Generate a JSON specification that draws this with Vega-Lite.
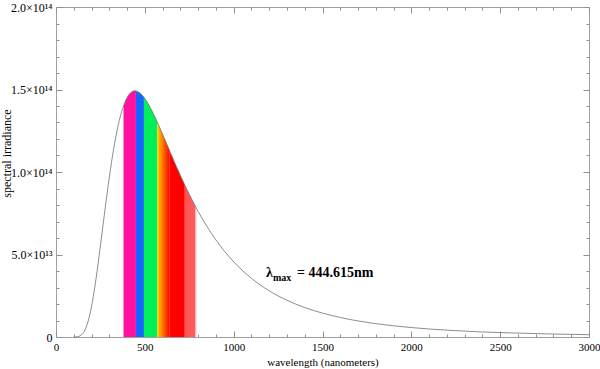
{
  "$schema": "https://vega.github.io/schema/vega-lite/v6.json",
  "width": 533,
  "height": 330,
  "autosize": {"type": "none"},
  "padding": {"left": 56, "top": 7, "right": 11, "bottom": 32},
  "background": "white",
  "config": {
    "view": {"stroke": "#a0a0a0", "strokeWidth": 1},
    "axis": {"domain": false, "grid": false, "tickColor": "#909090", "tickWidth": 1, "labelFont": "Liberation Serif", "labelFontSize": 11, "labelColor": "#000", "labelFlush": false, "labelOverlap": false, "labelBound": false, "titleFont": "Liberation Serif", "titleFontSize": 11, "titleFontWeight": "normal", "titleColor": "#000"}
  },
  "datasets": {
    "curve": [
      {"w": 100, "v": 9.6e9}, {"w": 110, "v": 4.41e10}, {"w": 120, "v": 1.52e11}, {"w": 130, "v": 4.19e11},
      {"w": 140, "v": 9.72e11}, {"w": 150, "v": 1.972e12}, {"w": 160, "v": 3.582e12}, {"w": 170, "v": 5.956e12},
      {"w": 180, "v": 9.209e12}, {"w": 190, "v": 1.34e13}, {"w": 200, "v": 1.854e13}, {"w": 210, "v": 2.457e13},
      {"w": 225, "v": 3.507e13}, {"w": 250, "v": 5.525e13}, {"w": 275, "v": 7.657e13}, {"w": 300, "v": 9.679e13},
      {"w": 325, "v": 1.143e14}, {"w": 350, "v": 1.2828e14}, {"w": 375, "v": 1.3848e14}, {"w": 400, "v": 1.4505e14},
      {"w": 425, "v": 1.4843e14}, {"w": 444.6, "v": 1.4919e14}, {"w": 475, "v": 1.4764e14}, {"w": 500, "v": 1.4451e14},
      {"w": 525, "v": 1.4011e14}, {"w": 550, "v": 1.3487e14}, {"w": 600, "v": 1.2287e14}, {"w": 650, "v": 1.1021e14},
      {"w": 700, "v": 9.79e13}, {"w": 750, "v": 8.646e13}, {"w": 800, "v": 7.612e13}, {"w": 900, "v": 5.882e13},
      {"w": 1000, "v": 4.558e13}, {"w": 1100, "v": 3.557e13}, {"w": 1200, "v": 2.8e13}, {"w": 1300, "v": 2.226e13},
      {"w": 1400, "v": 1.786e13}, {"w": 1600, "v": 1.183e13}, {"w": 1800, "v": 8.1e12}, {"w": 2000, "v": 5.72e12},
      {"w": 2250, "v": 3.837e12}, {"w": 2500, "v": 2.664e12}, {"w": 2750, "v": 1.905e12}, {"w": 3000, "v": 1.396e12}
    ],
    "bands": [
      {"band": "violet", "w": 380, "v": 1.4006e14}, {"band": "violet", "w": 400, "v": 1.4505e14}, {"band": "violet", "w": 425, "v": 1.4843e14}, {"band": "violet", "w": 444.6, "v": 1.4919e14}, {"band": "violet", "w": 450, "v": 1.4913e14},
      {"band": "blue", "w": 450, "v": 1.4913e14}, {"band": "blue", "w": 475, "v": 1.4764e14}, {"band": "blue", "w": 495, "v": 1.4525e14},
      {"band": "green", "w": 495, "v": 1.4525e14}, {"band": "green", "w": 500, "v": 1.4451e14}, {"band": "green", "w": 525, "v": 1.4011e14}, {"band": "green", "w": 550, "v": 1.3487e14}, {"band": "green", "w": 570, "v": 1.3022e14},
      {"band": "grad", "w": 570, "v": 1.3022e14}, {"band": "grad", "w": 590, "v": 1.2535e14}, {"band": "grad", "w": 600, "v": 1.2287e14}, {"band": "grad", "w": 620, "v": 1.1781e14}, {"band": "grad", "w": 640, "v": 1.1272e14},
      {"band": "red", "w": 640, "v": 1.1272e14}, {"band": "red", "w": 650, "v": 1.1021e14}, {"band": "red", "w": 675, "v": 1.0397e14}, {"band": "red", "w": 700, "v": 9.79e13}, {"band": "red", "w": 725, "v": 9.205e13},
      {"band": "fade", "w": 725, "v": 9.205e13}, {"band": "fade", "w": 750, "v": 8.646e13}, {"band": "fade", "w": 780, "v": 8.011e13}, {"band": "fade", "w": 790, "v": 7.809e13}
    ],
    "note": [
      {"w": 1182, "v": 3.64e13, "sym": "λ", "sub": "max", "eq": "= 444.615nm"}
    ]
  },
  "layer": [
    {
      "data": {"name": "bands"},
      "transform": [{"filter": "datum.band != 'grad' && datum.band != 'fade'"}],
      "mark": {"type": "area", "interpolate": "monotone"},
      "encoding": {
        "x": {"field": "w", "type": "quantitative", "scale": {"domain": [0, 3000], "nice": false, "zero": false}, "axis": null},
        "y": {"field": "v", "type": "quantitative", "scale": {"domain": [0, 2e14], "nice": false}, "axis": null, "stack": null},
        "color": {"field": "band", "type": "nominal", "scale": {"domain": ["violet", "blue", "green", "red"], "range": ["#ff12a0", "#1466ff", "#00f05a", "#ff0000"]}, "legend": null}
      }
    },
    {
      "data": {"name": "bands"},
      "transform": [{"filter": "datum.band == 'grad'"}],
      "mark": {"type": "area", "interpolate": "monotone", "color": {"gradient": "linear", "x1": 0, "x2": 1, "y1": 0, "y2": 0, "stops": [{"offset": 0, "color": "#ffd200"}, {"offset": 0.4, "color": "#ff8000"}, {"offset": 1, "color": "#ff0000"}]}},
      "encoding": {
        "x": {"field": "w", "type": "quantitative", "scale": {"domain": [0, 3000], "nice": false, "zero": false}, "axis": null},
        "y": {"field": "v", "type": "quantitative", "scale": {"domain": [0, 2e14], "nice": false}, "axis": null, "stack": null}
      }
    },
    {
      "data": {"name": "bands"},
      "transform": [{"filter": "datum.band == 'fade'"}],
      "mark": {"type": "area", "interpolate": "monotone", "color": {"gradient": "linear", "x1": 0, "x2": 1, "y1": 0, "y2": 0, "stops": [{"offset": 0, "color": "#ff5252"}, {"offset": 0.84, "color": "#ff5c5c"}, {"offset": 0.86, "color": "#ffaaaa"}, {"offset": 1, "color": "#ffbcbc"}]}},
      "encoding": {
        "x": {"field": "w", "type": "quantitative", "scale": {"domain": [0, 3000], "nice": false, "zero": false}, "axis": null},
        "y": {"field": "v", "type": "quantitative", "scale": {"domain": [0, 2e14], "nice": false}, "axis": null, "stack": null}
      }
    },
    {
      "data": {"name": "curve"},
      "mark": {"type": "line", "interpolate": "monotone", "color": "#707070", "strokeWidth": 0.8},
      "encoding": {
        "x": {"field": "w", "type": "quantitative", "scale": {"domain": [0, 3000], "nice": false, "zero": false},
          "axis": {"orient": "bottom", "values": [0, 500, 1000, 1500, 2000, 2500, 3000], "format": "d", "tickSize": -6, "labelPadding": 10, "title": "wavelength (nanometers)", "titlePadding": 4}},
        "y": {"field": "v", "type": "quantitative", "scale": {"domain": [0, 2e14], "nice": false},
          "axis": {"orient": "left", "values": [0, 5e13, 1e14, 1.5e14, 2e14], "labelExpr": "datum.value == 0 ? '0' : datum.value < 6e13 ? '5.0×10¹³' : datum.value < 1.2e14 ? '1.0×10¹⁴' : datum.value < 1.7e14 ? '1.5×10¹⁴' : '2.0×10¹⁴'", "labelFontSize": 12, "tickSize": -6, "labelPadding": 10, "title": "spectral irradiance", "titleFontSize": 12, "titleAngle": -90, "titleX": -50, "titleY": 146, "titleAlign": "center", "titleBaseline": "middle"}}
      }
    },
    {
      "data": {"name": "curve"},
      "mark": {"type": "line", "strokeOpacity": 0},
      "encoding": {
        "x": {"field": "w", "type": "quantitative", "scale": {"domain": [0, 3000], "nice": false, "zero": false},
          "axis": {"orient": "bottom", "values": [100, 200, 300, 400, 600, 700, 800, 900, 1100, 1200, 1300, 1400, 1600, 1700, 1800, 1900, 2100, 2200, 2300, 2400, 2600, 2700, 2800, 2900], "tickSize": -3, "labels": false, "title": null}},
        "y": {"field": "v", "type": "quantitative", "scale": {"domain": [0, 2e14], "nice": false},
          "axis": {"orient": "left", "values": [1e13, 2e13, 3e13, 4e13, 6e13, 7e13, 8e13, 9e13, 1.1e14, 1.2e14, 1.3e14, 1.4e14, 1.6e14, 1.7e14, 1.8e14, 1.9e14], "tickSize": -3, "labels": false, "title": null}}
      }
    },
    {
      "data": {"name": "curve"},
      "mark": {"type": "line", "strokeOpacity": 0},
      "encoding": {
        "x": {"field": "w", "type": "quantitative", "scale": {"domain": [0, 3000], "nice": false, "zero": false},
          "axis": {"orient": "top", "values": [0, 500, 1000, 1500, 2000, 2500, 3000], "tickSize": -6, "labels": false, "title": null}},
        "y": {"field": "v", "type": "quantitative", "scale": {"domain": [0, 2e14], "nice": false},
          "axis": {"orient": "right", "values": [0, 5e13, 1e14, 1.5e14, 2e14], "tickSize": -6, "labels": false, "title": null}}
      }
    },
    {
      "data": {"name": "curve"},
      "mark": {"type": "line", "strokeOpacity": 0},
      "encoding": {
        "x": {"field": "w", "type": "quantitative", "scale": {"domain": [0, 3000], "nice": false, "zero": false},
          "axis": {"orient": "top", "values": [100, 200, 300, 400, 600, 700, 800, 900, 1100, 1200, 1300, 1400, 1600, 1700, 1800, 1900, 2100, 2200, 2300, 2400, 2600, 2700, 2800, 2900], "tickSize": -3, "labels": false, "title": null}},
        "y": {"field": "v", "type": "quantitative", "scale": {"domain": [0, 2e14], "nice": false},
          "axis": {"orient": "right", "values": [1e13, 2e13, 3e13, 4e13, 6e13, 7e13, 8e13, 9e13, 1.1e14, 1.2e14, 1.3e14, 1.4e14, 1.6e14, 1.7e14, 1.8e14, 1.9e14], "tickSize": -3, "labels": false, "title": null}}
      }
    },
    {
      "data": {"name": "note"},
      "mark": {"type": "text", "font": "Liberation Serif", "fontWeight": "bold", "fontSize": 14, "align": "left", "baseline": "alphabetic", "color": "#000"},
      "encoding": {
        "x": {"field": "w", "type": "quantitative", "scale": {"domain": [0, 3000], "nice": false, "zero": false}, "axis": null},
        "y": {"field": "v", "type": "quantitative", "scale": {"domain": [0, 2e14], "nice": false}, "axis": null},
        "text": {"field": "sym"}
      }
    },
    {
      "data": {"name": "note"},
      "mark": {"type": "text", "font": "Liberation Serif", "fontWeight": "bold", "fontSize": 10, "align": "left", "baseline": "alphabetic", "dx": 7, "dy": 4, "color": "#000"},
      "encoding": {
        "x": {"field": "w", "type": "quantitative", "scale": {"domain": [0, 3000], "nice": false, "zero": false}, "axis": null},
        "y": {"field": "v", "type": "quantitative", "scale": {"domain": [0, 2e14], "nice": false}, "axis": null},
        "text": {"field": "sub"}
      }
    },
    {
      "data": {"name": "note"},
      "mark": {"type": "text", "font": "Liberation Serif", "fontWeight": "bold", "fontSize": 14, "align": "left", "baseline": "alphabetic", "dx": 31, "color": "#000"},
      "encoding": {
        "x": {"field": "w", "type": "quantitative", "scale": {"domain": [0, 3000], "nice": false, "zero": false}, "axis": null},
        "y": {"field": "v", "type": "quantitative", "scale": {"domain": [0, 2e14], "nice": false}, "axis": null},
        "text": {"field": "eq"}
      }
    }
  ],
  "resolve": {"axis": {"x": "independent", "y": "independent"}}
}
